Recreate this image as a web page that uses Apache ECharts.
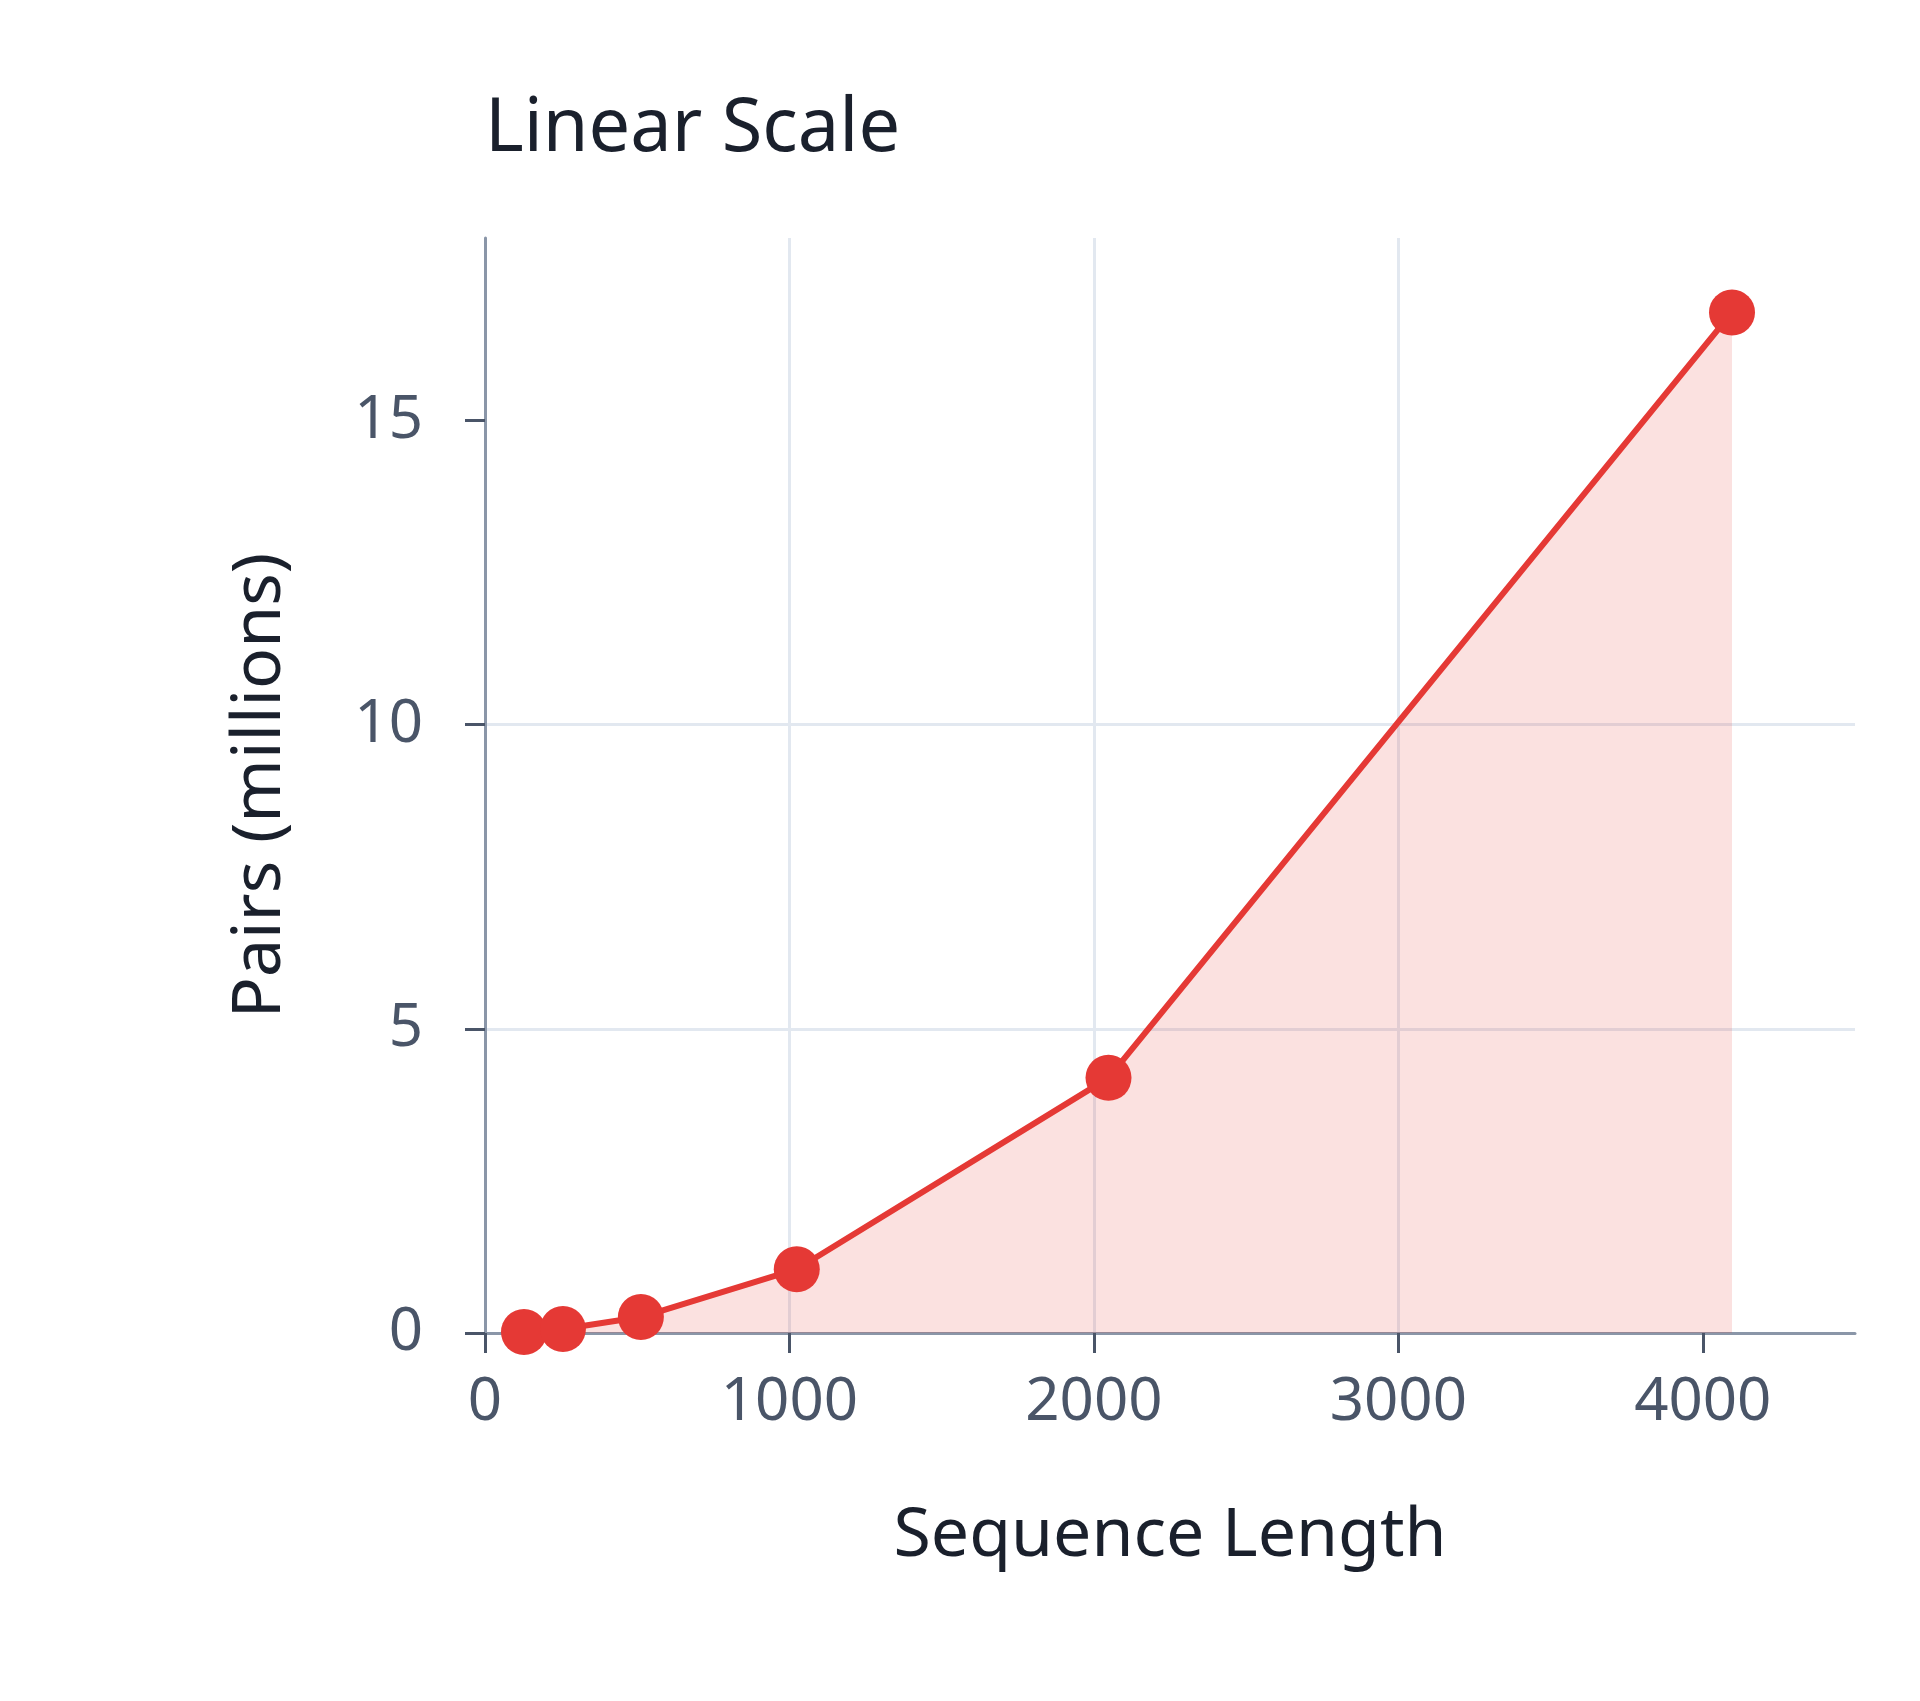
<!DOCTYPE html><html><head><meta charset="utf-8"><script src="https://cdn.jsdelivr.net/npm/echarts@6/dist/echarts.min.js"></script>
<style>html,body{margin:0;background:#fff}#c{width:1920px;height:1701px}</style></head><body><div id="c"></div><script>
const seqLen=[128,256,512,1024,2048,4096];
const pairsM=[0.016,0.066,0.262,1.049,4.194,16.777];
const xTicks=[0,1000,2000,3000,4000];
const yTicks=[0,5,10,15];
const ch=echarts.init(document.getElementById('c'));
const F='"Noto Sans", sans-serif';
ch.setOption({
 animation:false,
 title:{text:'Linear Scale',left:480,top:88,textStyle:{fontFamily:F,fontSize:74,fontWeight:'normal',color:'#1a202c'}},
 grid:{left:485,right:65,top:238,bottom:368},
 xAxis:{type:'value',min:0,max:4500,interval:1000,name:'Sequence Length',nameLocation:'middle',nameGap:170,
  nameTextStyle:{fontFamily:F,fontSize:68,color:'#1a202c'},
  axisLine:{lineStyle:{color:'#8a96a8',width:3}},axisTick:{show:true,length:20,customValues:xTicks,lineStyle:{color:'#4a5568',width:3}},
  axisLabel:{fontFamily:F,fontSize:60,color:'#4a5568',margin:40,customValues:xTicks,formatter:v=>String(v)},
  splitLine:{show:true,showMaxLine:false,lineStyle:{color:'#e2e8f0',width:3}}},
 yAxis:{type:'value',min:0,max:18,interval:5,name:'Pairs (millions)',nameLocation:'middle',nameGap:190,
  nameTextStyle:{fontFamily:F,fontSize:68,color:'#1a202c'},
  axisLine:{show:true,lineStyle:{color:'#8a96a8',width:3}},axisTick:{show:true,length:20,customValues:yTicks,lineStyle:{color:'#4a5568',width:3}},
  axisLabel:{fontFamily:F,fontSize:60,color:'#4a5568',margin:62,customValues:yTicks},
  splitLine:{show:true,showMaxLine:false,lineStyle:{color:'#e2e8f0',width:3}}},
 series:[{type:'line',data:seqLen.map((x,i)=>[x,pairsM[i]]),symbol:'circle',symbolSize:46,
  itemStyle:{color:'#e53935'},lineStyle:{color:'#e53935',width:6},areaStyle:{color:'rgba(229,57,53,0.22)'}}]
});
</script></body></html>
